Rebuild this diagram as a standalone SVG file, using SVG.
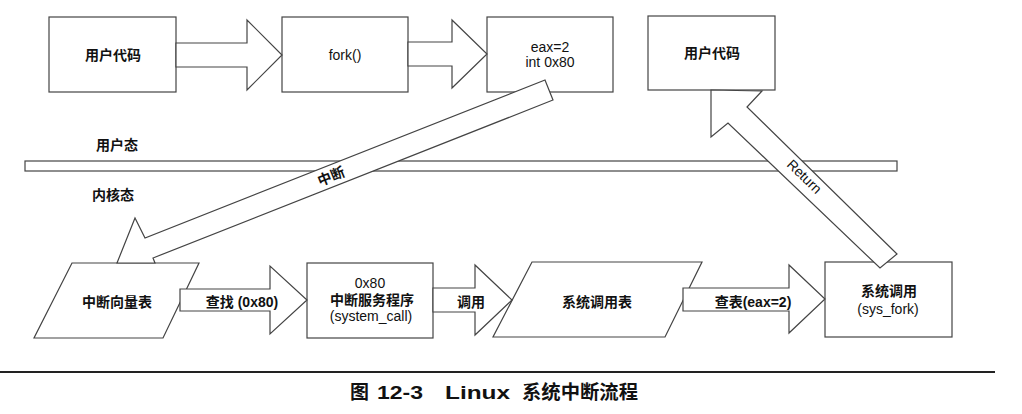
<svg xmlns="http://www.w3.org/2000/svg" width="1022" height="414" viewBox="0 0 1022 414">
<style>
.box{fill:#fff;stroke:#444;stroke-width:1.2}
.arrow{fill:#fff;stroke:#444;stroke-width:1.2;stroke-linejoin:miter}
.t{font-family:"Liberation Sans","Noto Sans CJK SC",sans-serif;font-size:14px;fill:#111;text-anchor:middle}
.b{font-weight:bold}
.cap{font-family:"Liberation Sans","Noto Sans CJK SC",sans-serif;font-size:19px;fill:#111;font-weight:bold}
</style>
<rect width="1022" height="414" fill="#fff"/>
<g id="boundary">
<rect x="25" y="161" width="872" height="10" class="box"/>
<text class="t b" x="117" y="150" font-size="13">用户态</text>
<text class="t b" x="113" y="200" font-size="13">内核态</text>
</g>
<g id="user-code-1">
<rect x="49" y="17" width="127" height="75" class="box"/>
<text class="t b" x="113" y="60">用户代码</text>
</g>
<g id="fork">
<rect x="282" y="17" width="126" height="75" class="box"/>
<text class="t" x="345" y="60">fork()</text>
</g>
<g id="int80">
<rect x="487" y="17" width="126" height="75" class="box"/>
<text class="t" x="550" y="52">eax=2</text>
<text class="t" x="550" y="67">int 0x80</text>
</g>
<g id="user-code-2">
<rect x="648" y="16" width="127" height="74" class="box"/>
<text class="t b" x="712" y="58">用户代码</text>
</g>
<g id="ivt">
<polygon points="72,263 199,263 163,338 34,338" class="box"/>
<text class="t b" x="117" y="307">中断向量表</text>
</g>
<g id="system-call">
<rect x="307" y="263" width="126" height="75" class="box"/>
<text class="t" x="370" y="288">0x80</text>
<text class="t b" x="372" y="305">中断服务程序</text>
<text class="t" x="371" y="321">(system_call)</text>
</g>
<g id="syscall-table">
<polygon points="532,262 702,262 665,337 493,337" class="box"/>
<text class="t b" x="597" y="307">系统调用表</text>
</g>
<g id="sys-fork">
<rect x="825" y="262" width="127" height="75" class="box"/>
<text class="t b" x="889" y="296">系统调用</text>
<text class="t" x="888" y="314">(sys_fork)</text>
</g>
<g id="connectors">
<polygon class="arrow" points="176,43 247,43 247,20 282,55 247,90 247,67 176,67"/>
<polygon class="arrow" points="408,42 452,42 452,20 487,54 452,88 452,66 408,66"/>
<polygon class="arrow" points="545,80 145,238 135,218 117,263 155,263 153,258 553,100"/>
<text class="t b" font-size="12" transform="translate(333,181) rotate(-22)">中断</text>
<polygon class="arrow" points="711,90 711,137 728,123 880,268 897,254 747,107 762,91"/>
<text class="t" font-size="13" transform="translate(801,180) rotate(44)">Return</text>
<polygon class="arrow" points="180,289 270,289 270,266 307,300 270,334 270,311 180,311"/>
<text class="t b" x="242" y="307">查找 (0x80)</text>
<polygon class="arrow" points="433,288 475,288 475,265 512,300 475,335 475,312 433,312"/>
<text class="t b" x="471" y="307">调用</text>
<polygon class="arrow" points="683,288 789,288 789,265 825,299 789,333 789,311 683,311"/>
<text class="t b" x="753" y="307">查表(eax=2)</text>
</g>
<g id="caption">
<line x1="0" y1="372" x2="995" y2="372" stroke="#222" stroke-width="2"/>
<text class="cap" y="399"><tspan x="350">图</tspan><tspan x="377" textLength="46" lengthAdjust="spacingAndGlyphs">12-3</tspan><tspan x="445" textLength="65" lengthAdjust="spacingAndGlyphs">Linux</tspan><tspan x="522" textLength="116" lengthAdjust="spacingAndGlyphs">系统中断流程</tspan></text>
</g>
</svg>
